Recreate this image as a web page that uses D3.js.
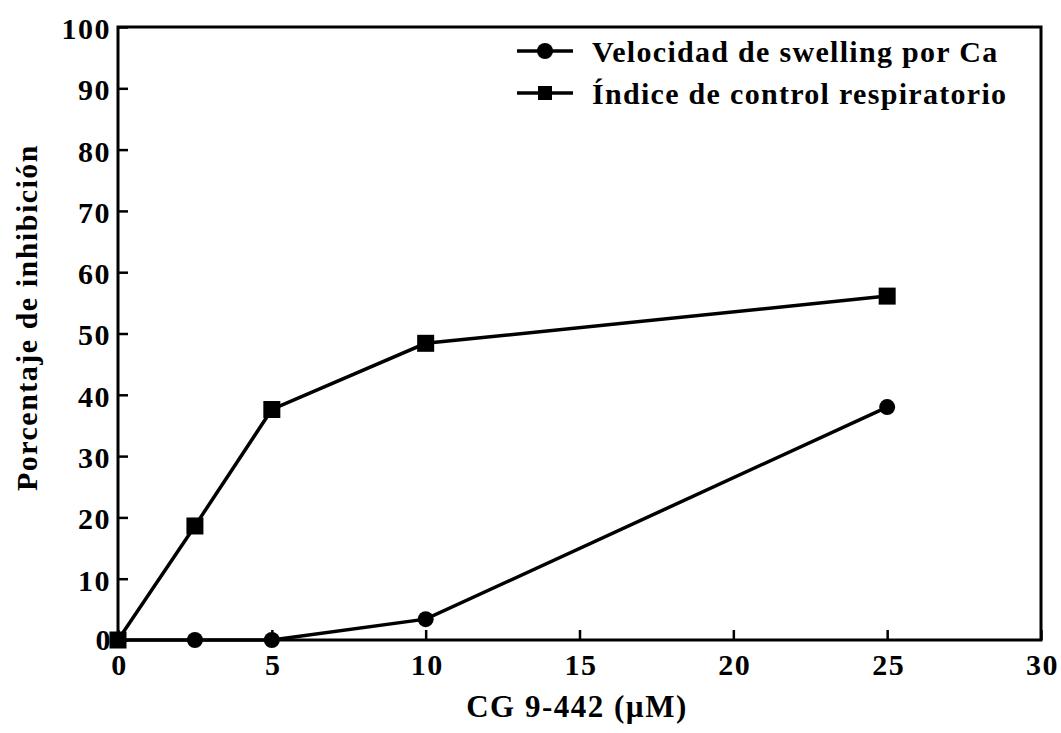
<!DOCTYPE html>
<html>
<head>
<meta charset="utf-8">
<script src="https://cdn.jsdelivr.net/npm/d3@7"></script>
<style>
  html, body { margin: 0; padding: 0; background: #fff; }
  svg { display: block; }
  text { font-family: "Liberation Serif", "Times New Roman", serif; font-weight: bold; fill: #000; }
</style>
</head>
<body>
<svg id="chart" width="1061" height="733"></svg>
<script>
// Concentration of CG 9-442 (µM)
const concentrations = [0, 2.5, 5, 10, 25];
// Inhibition (%) of Ca-induced swelling rate
const swellingInhibition = [0, 0, 0, 3.4, 38.0];
// Inhibition (%) of respiratory control index
const respiratoryInhibition = [0, 18.6, 37.6, 48.4, 56.1];

const xTicks = [0, 5, 10, 15, 20, 25, 30];
const yTicks = [0, 10, 20, 30, 40, 50, 60, 70, 80, 90, 100];

const seriesNames = ["Velocidad de swelling por Ca", "Índice de control respiratorio"];
const xTitle = "CG 9-442 (µM)";
const yTitle = "Porcentaje de inhibición";

const svg = d3.select("#chart");

const x = d3.scaleLinear().domain([0, 30]).range([118, 1041]);
const y = d3.scaleLinear().domain([0, 100]).range([640, 27]);

const tickFont = 30, tickSpacing = "1.5px";

// Frame
svg.append("rect")
  .attr("x", x(0)).attr("y", y(100))
  .attr("width", x(30) - x(0)).attr("height", y(0) - y(100))
  .attr("fill", "none").attr("stroke", "#000").attr("stroke-width", 3);

// Axes with inward ticks
const xAxis = d3.axisBottom(x).tickValues(xTicks).tickSizeInner(-10).tickSizeOuter(0).tickPadding(14);
const gx = svg.append("g").attr("transform", `translate(0,${y(0)})`).call(xAxis);
gx.select(".domain").remove();
gx.selectAll(".tick line").attr("stroke-width", 2.5);
gx.selectAll(".tick text").attr("font-size", tickFont).attr("dy", "0.71em")
  .style("letter-spacing", tickSpacing).attr("dx", "1px");

const yAxis = d3.axisLeft(y).tickValues(yTicks).tickSizeInner(-10).tickSizeOuter(0).tickPadding(7);
const gy = svg.append("g").attr("transform", `translate(${x(0)},0)`).call(yAxis);
gy.select(".domain").remove();
gy.selectAll(".tick line").attr("stroke-width", 2.5);
gy.selectAll(".tick text").attr("font-size", tickFont).attr("dy", "0.38em")
  .style("letter-spacing", tickSpacing);
gx.selectAll("text").attr("font-family", null);
gy.selectAll("text").attr("font-family", null);
// the zero on the y axis sits a little higher so it clears the x-axis zero
gy.selectAll(".tick text").filter(d => d === 0).attr("dx", 1).attr("dy", "0.3em");

// Axis titles
svg.append("text")
  .attr("x", 577).attr("y", 717)
  .attr("text-anchor", "middle").attr("font-size", 31).style("letter-spacing", "1.5px")
  .text(xTitle);
svg.append("text")
  .attr("transform", `translate(37,${(143 + 492) / 2}) rotate(-90)`)
  .attr("text-anchor", "middle").attr("font-size", 30).style("letter-spacing", "1.5px")
  .text(yTitle);

// Series
const line = d3.line().x(d => x(d[0])).y(d => y(d[1]));
const sw = concentrations.map((c, i) => [c, swellingInhibition[i]]);
const rc = concentrations.map((c, i) => [c, respiratoryInhibition[i]]);

svg.append("path").datum(sw).attr("d", line)
  .attr("fill", "none").attr("stroke", "#000").attr("stroke-width", 3.5);
svg.append("path").datum(rc).attr("d", line)
  .attr("fill", "none").attr("stroke", "#000").attr("stroke-width", 3.5);

svg.append("g").selectAll("circle").data(sw).join("circle")
  .attr("cx", d => x(d[0])).attr("cy", d => y(d[1])).attr("r", 8).attr("fill", "#000");
const sq = 17;
svg.append("g").selectAll("rect").data(rc).join("rect")
  .attr("x", d => x(d[0]) - sq / 2).attr("y", d => y(d[1]) - sq / 2)
  .attr("width", sq).attr("height", sq).attr("fill", "#000");

// Legend
const legend = svg.append("g").attr("transform", "translate(517,51)");
seriesNames.forEach((name, i) => {
  const g = legend.append("g").attr("transform", `translate(0,${i * 42})`);
  g.append("line").attr("x1", 0).attr("x2", 56).attr("y1", 0).attr("y2", 0)
    .attr("stroke", "#000").attr("stroke-width", 3.5);
  if (i === 0) {
    g.append("circle").attr("cx", 28).attr("cy", 0).attr("r", 8).attr("fill", "#000");
  } else {
    g.append("rect").attr("x", 21).attr("y", -7).attr("width", 14).attr("height", 14).attr("fill", "#000");
  }
  g.append("text").attr("x", 75).attr("y", 0).attr("dy", "0.35em")
    .attr("font-size", 30).style("letter-spacing", "1.3px").text(name);
});
</script>
</body>
</html>
